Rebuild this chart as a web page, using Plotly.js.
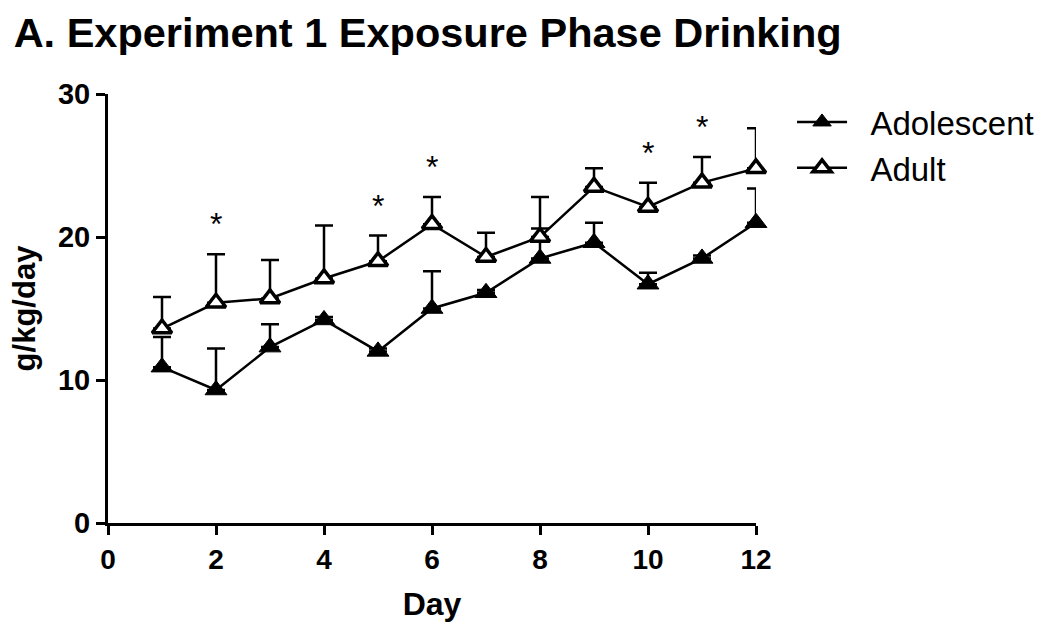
<!DOCTYPE html>
<html>
<head>
<meta charset="utf-8">
<script src="https://cdn.plot.ly/plotly-3.0.1.min.js"></script>
<style>html,body{margin:0;padding:0;background:#fff;}#chart{width:1050px;height:635px;}</style>
</head>
<body>
<div id="chart"></div>
<script>
var days = [1, 2, 3, 4, 5, 6, 7, 8, 9, 10, 11, 12];
var adolescentMean = [10.9, 9.3, 12.3, 14.2, 12.0, 15.0, 16.1, 18.5, 19.6, 16.7, 18.5, 21.0];
var adolescentSEM  = [2.1, 2.9, 1.6, 0.2, 0.2, 2.6, 0.2, 2.1, 1.4, 0.8, 0.2, 2.4];
var adultMean = [13.6, 15.4, 15.7, 17.1, 18.3, 20.9, 18.6, 20.0, 23.5, 22.1, 23.8, 24.8];
var adultSEM  = [2.2, 3.4, 2.7, 3.7, 1.8, 1.9, 1.7, 2.8, 1.3, 1.7, 1.8, 2.8];
var significantDays = [2, 5, 6, 10, 11];
var xTicks = [0, 2, 4, 6, 8, 10, 12];
var yTicks = [0, 10, 20, 30];

var FONT = 'Liberation Sans, Arial, sans-serif';
var zeros = days.map(function () { return 0; });
var GAP = '\u00a0\u00a0';

var adolescent = {
  x: days, y: adolescentMean, name: GAP + 'Adolescent', type: 'scatter', mode: 'lines+markers',
  cliponaxis: false,
  line: {color: '#000', width: 2.5},
  marker: {symbol: 'triangle-up', size: 19, color: '#000', line: {color: '#000', width: 1}},
  error_y: {type: 'data', symmetric: false, array: adolescentSEM, arrayminus: zeros,
            color: '#000', thickness: 2.5, width: 9}
};
var adult = {
  x: days, y: adultMean, name: GAP + 'Adult', type: 'scatter', mode: 'lines+markers',
  cliponaxis: false,
  line: {color: '#000', width: 2.5},
  marker: {symbol: 'triangle-up', size: 17, color: '#fff', line: {color: '#000', width: 3.5}},
  error_y: {type: 'data', symmetric: false, array: adultSEM, arrayminus: zeros,
            color: '#000', thickness: 2.5, width: 9}
};

var annotations = significantDays.map(function (d) {
  var i = days.indexOf(d);
  return {
    x: d, y: adultMean[i] + adultSEM[i] + 2.1, xref: 'x', yref: 'y',
    text: '*', showarrow: false, xanchor: 'center', yanchor: 'middle',
    font: {family: FONT, size: 32, color: '#000'}
  };
});

var layout = {
  width: 1050, height: 635,
  margin: {l: 108, r: 293, t: 94, b: 112},
  paper_bgcolor: '#fff', plot_bgcolor: '#fff',
  font: {family: FONT, color: '#000'},
  title: {
    text: '<b>A. Experiment 1 Exposure Phase Drinking</b>',
    font: {family: FONT, size: 41.5, color: '#000'},
    x: 0.013, xanchor: 'left',
    xref: 'container', y: 1 - 32 / 635, yanchor: 'middle', yref: 'container'
  },
  xaxis: {
    range: [0, 12], tickvals: xTicks, ticktext: xTicks.map(String),
    showgrid: false, zeroline: false, showline: true, linecolor: '#000', linewidth: 3,
    ticks: 'outside', ticklen: 9, tickwidth: 3, tickcolor: '#000',
    tickfont: {family: FONT, size: 28, color: '#000', weight: 'bold'},
    title: {text: '<b>Day</b>', font: {family: FONT, size: 32, color: '#000'}, standoff: 20}
  },
  yaxis: {
    range: [0, 30], tickvals: yTicks, ticktext: yTicks.map(String),
    showgrid: false, zeroline: false, showline: true, linecolor: '#000', linewidth: 3,
    ticks: 'outside', ticklen: 9, tickwidth: 3, tickcolor: '#000',
    tickfont: {family: FONT, size: 29, color: '#000', weight: 'bold'},
    title: {text: '<b>g/kg/day</b>', font: {family: FONT, size: 31, color: '#000'}, standoff: 14}
  },
  legend: {
    x: 1.054, y: 1.0, xanchor: 'left', yanchor: 'top', xref: 'paper', yref: 'paper',
    font: {family: FONT, size: 33, color: '#000'},
    bgcolor: 'rgba(0,0,0,0)', itemwidth: 50
  },
  showlegend: true,
  annotations: annotations
};

Plotly.newPlot('chart', [adolescent, adult], layout, {displayModeBar: false, staticPlot: true});
</script>
</body>
</html>
